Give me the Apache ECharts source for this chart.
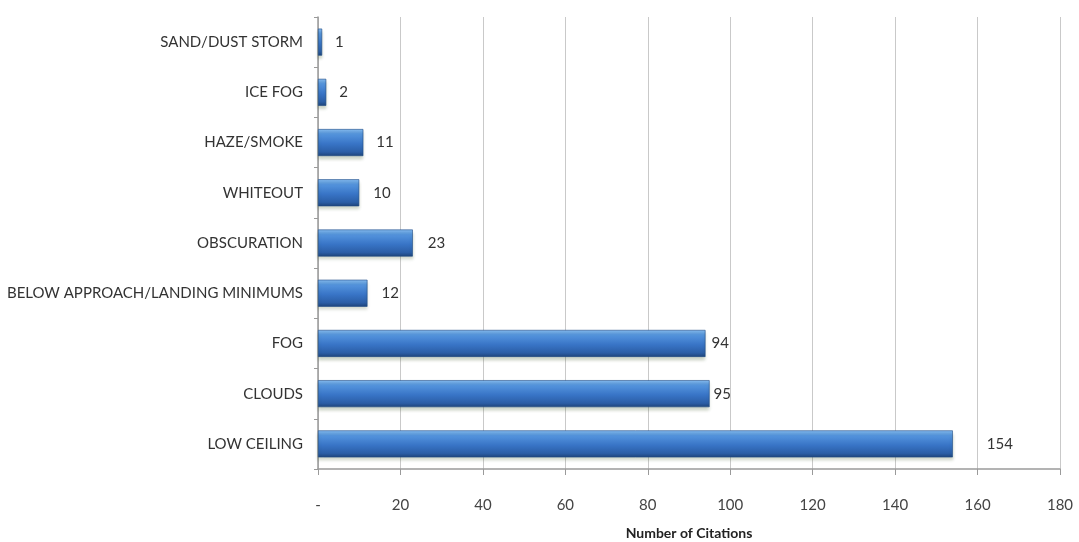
<!DOCTYPE html>
<html>
<head>
<meta charset="utf-8">
<script src="https://cdn.jsdelivr.net/npm/echarts@6/dist/echarts.min.js"></script>
<style>
  html, body { margin: 0; padding: 0; background: #ffffff; }
  #chart { width: 1079px; height: 542px; }
</style>
</head>
<body>
<div id="chart"></div>
<script>
// Weather factors cited, listed bottom-to-top as drawn on the category axis
const categories = [
  'LOW CEILING',
  'CLOUDS',
  'FOG',
  'BELOW APPROACH/LANDING MINIMUMS',
  'OBSCURATION',
  'WHITEOUT',
  'HAZE/SMOKE',
  'ICE FOG',
  'SAND/DUST STORM'
];
const citations = [154, 95, 94, 12, 23, 10, 11, 2, 1];
const xTickLabels = ['-', '20', '40', '60', '80', '100', '120', '140', '160', '180'];

// Gap between each bar end and its value label (pixels)
const labelGaps = [34, 4, 6, 14, 15, 14, 13, 13, 13];

const chart = echarts.init(document.getElementById('chart'), null, { renderer: 'canvas' });

const barFill = new echarts.graphic.LinearGradient(0, 0, 0, 1, [
  { offset: 0, color: '#86bcf0' },
  { offset: 0.18, color: '#5595de' },
  { offset: 0.55, color: '#3874c6' },
  { offset: 0.85, color: '#2b5ea6' },
  { offset: 1, color: '#1d4379' }
]);

const font = 'Lato, "Open Sans", sans-serif';

chart.setOption({
  backgroundColor: '#ffffff',
  animation: false,
  grid: { left: 318, right: 19, top: 17, bottom: 73, containLabel: false, outerBoundsMode: 'none' },
  xAxis: {
    type: 'value',
    min: 0,
    max: 180,
    interval: 20,
    name: 'Number of Citations',
    nameLocation: 'middle',
    nameGap: 57,
    nameTextStyle: { fontFamily: font, fontSize: 14, fontWeight: 'bold', color: '#222' },
    axisLine: { show: true, lineStyle: { color: '#9a9a9a', width: 1.5 } },
    axisTick: { show: true, length: 6, lineStyle: { color: '#9a9a9a' } },
    axisLabel: {
      margin: 29,
      fontFamily: font,
      fontSize: 15,
      color: '#444',
      formatter: function (v) { return xTickLabels[Math.round(v / 20)]; }
    },
    splitLine: { show: true, lineStyle: { color: '#c9c9c9', width: 1 } }
  },
  yAxis: {
    type: 'category',
    data: categories,
    axisLine: { show: true, lineStyle: { color: '#9a9a9a', width: 1.5 } },
    axisTick: { show: true, length: 4, lineStyle: { color: '#9a9a9a' } },
    axisLabel: { margin: 15, fontFamily: font, fontSize: 15, color: '#333' },
    splitLine: { show: false }
  },
  series: [{
    type: 'bar',
    data: citations.map(function (v, i) {
      return { value: v, label: { distance: labelGaps[i] } };
    }),
    barWidth: 27,
    itemStyle: {
      color: barFill,
      borderColor: '#1f4a85',
      borderWidth: 0.6,
      shadowColor: 'rgba(60, 90, 40, 0.25)',
      shadowBlur: 3,
      shadowOffsetY: 3
    },
    label: {
      show: true,
      position: 'right',
      fontFamily: font,
      fontSize: 15,
      color: '#333'
    }
  }]
});
</script>
</body>
</html>
